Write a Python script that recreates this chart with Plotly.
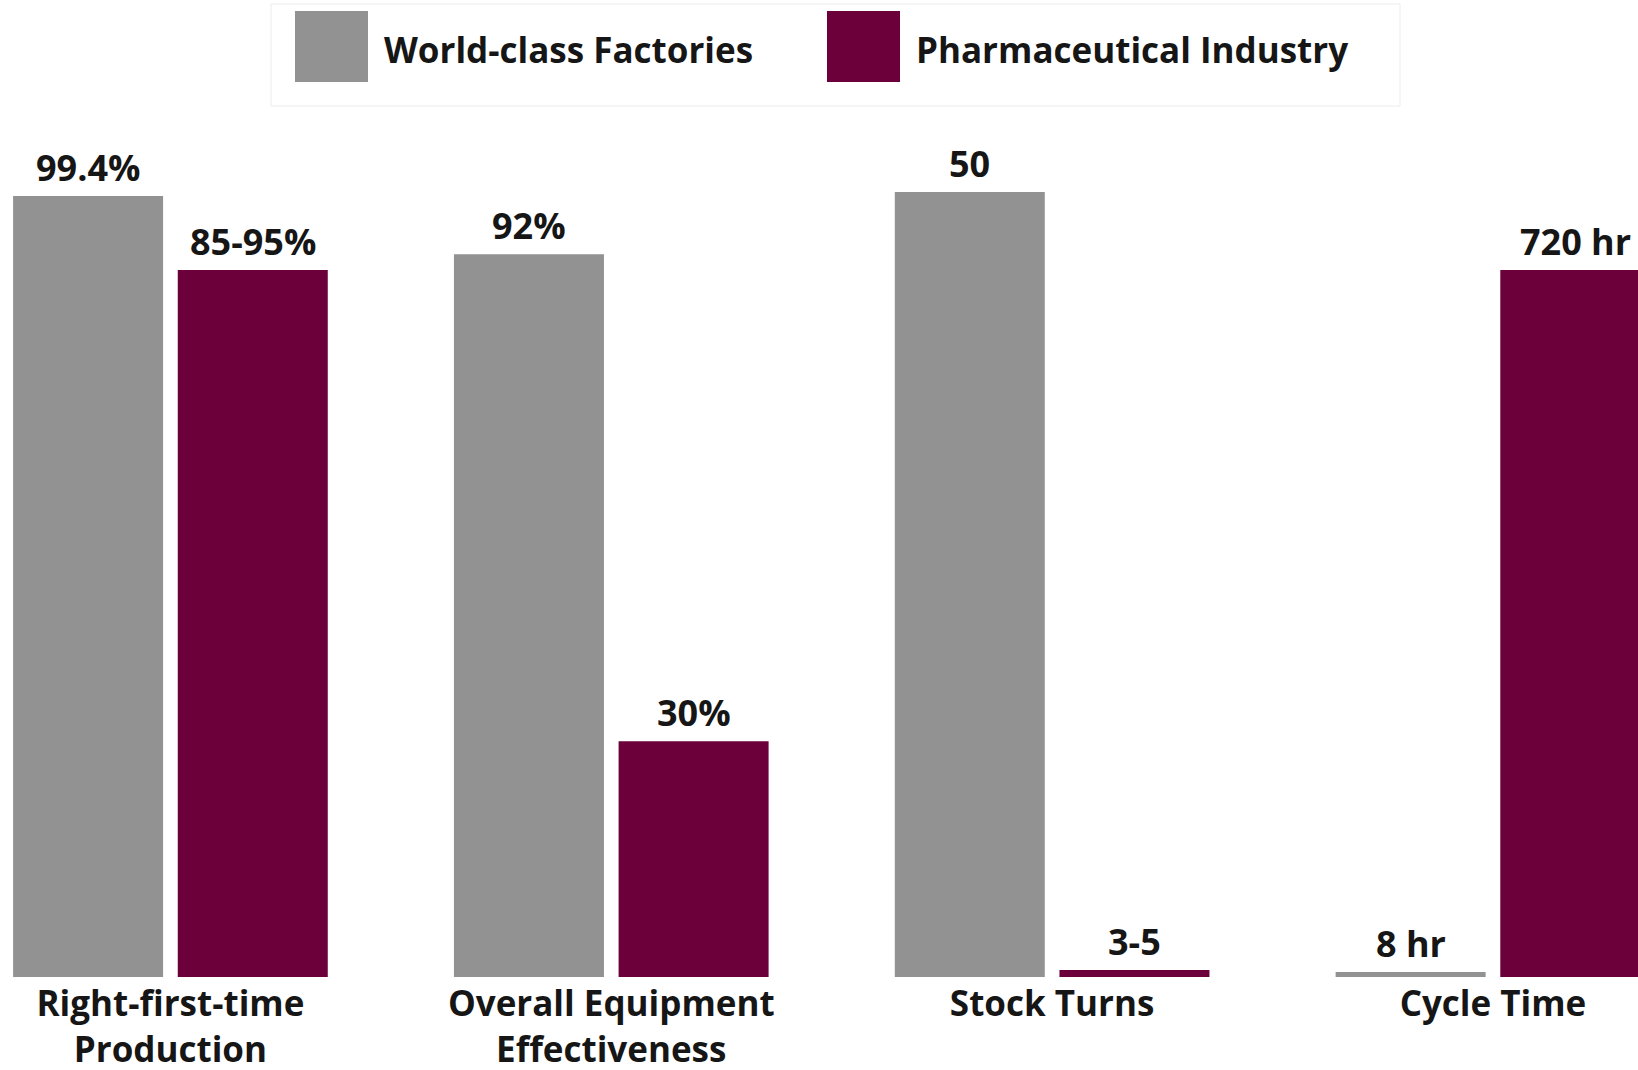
import plotly.graph_objects as go

# ---- data ----
categories = ["Right-first-time<br>Production", "Overall Equipment<br>Effectiveness",
              "Stock Turns", "Cycle Time"]
series_names = ["World-class Factories", "Pharmaceutical Industry"]
# bar heights as drawn in the picture (percent-of-scale units)
world_class_heights = [99.4, 92, 99.9, 0.65]
pharma_heights = [90, 30, 0.9, 90]
world_class_labels = ["99.4%", "92%", "50", "8 hr"]
pharma_labels = ["85-95%", "30%", "3-5", "720 hr"]

# ---- style ----
W, H = 1638, 1070
M_T, M_B = 120, 93
GRAY = "#929292"
MAROON = "#6b003b"
FONT = "Open Sans"
TXT = "#161616"
X_RANGE = [-0.3866, 3.329]
Y_RANGE = [0, 109.08]
BARGAP = 0.253
BARGROUPGAP = 0.089

fig = go.Figure()
fig.add_trace(go.Bar(x=categories, y=world_class_heights, name=series_names[0],
                     marker=dict(color=GRAY, line=dict(width=0))))
fig.add_trace(go.Bar(x=categories, y=pharma_heights, name=series_names[1],
                     marker=dict(color=MAROON, line=dict(width=0))))

# value labels above bars
plot_h = H - M_T - M_B
pitch = W / (X_RANGE[1] - X_RANGE[0])
offset = pitch * (1 - BARGAP) / 4
annotations = []
for heights, labels, sign in [(world_class_heights, world_class_labels, -1),
                              (pharma_heights, pharma_labels, 1)]:
    for c, h, t in zip(categories, heights, labels):
        annotations.append(dict(x=c, y=h, text=t, showarrow=False, xref="x", yref="y",
                                xanchor="center", yanchor="bottom",
                                xshift=sign * offset, yshift=2,
                                font=dict(family=FONT, size=36, color=TXT, weight="bold")))

def py(px):
    return (H - M_B - px) / plot_h

def pxx(px):
    return px / W

shapes = [
    dict(type="rect", xref="paper", yref="paper", x0=pxx(271), x1=pxx(1400), y0=py(106), y1=py(4),
         line=dict(color="#ececec", width=1), fillcolor="rgba(0,0,0,0)", layer="below"),
    dict(type="rect", xref="paper", yref="paper", x0=pxx(295), x1=pxx(368), y0=py(82), y1=py(11),
         line=dict(width=0), fillcolor=GRAY),
    dict(type="rect", xref="paper", yref="paper", x0=pxx(827), x1=pxx(900), y0=py(82), y1=py(11),
         line=dict(width=0), fillcolor=MAROON),
]
for name, x0 in [(series_names[0], 382), (series_names[1], 914)]:
    annotations.append(dict(x=pxx(x0), y=py(49), xref="paper", yref="paper", text=name,
                            showarrow=False, xanchor="left", yanchor="middle",
                            font=dict(family=FONT, size=35, color=TXT, weight="bold")))

fig.update_layout(
    width=W, height=H,
    margin=dict(l=0, r=0, t=M_T, b=M_B, pad=0, autoexpand=False),
    paper_bgcolor="white", plot_bgcolor="white",
    barmode="group", bargap=BARGAP, bargroupgap=BARGROUPGAP,
    showlegend=False,
    xaxis=dict(range=X_RANGE, showgrid=False, zeroline=False, showline=False, ticks="",
               automargin=False, ticklabelstandoff=3,
               tickfont=dict(family=FONT, size=35, color=TXT, weight="bold")),
    yaxis=dict(range=Y_RANGE, visible=False, showgrid=False, zeroline=False, automargin=False),
    shapes=shapes,
    annotations=annotations,
)

fig.write_html("out.html")
